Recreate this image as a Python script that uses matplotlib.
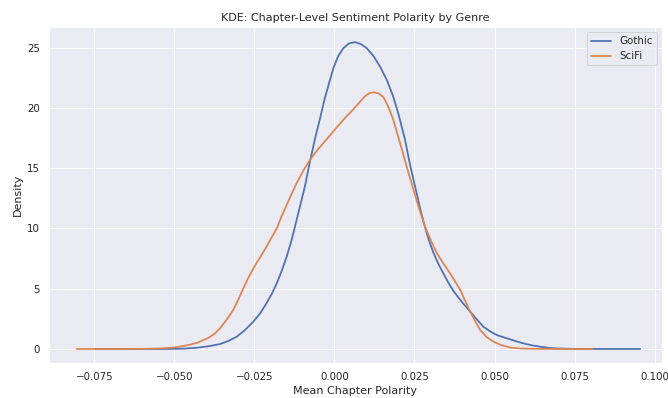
import matplotlib
matplotlib.use('Agg')
import matplotlib.pyplot as plt
import seaborn as sns

# density curves (x = mean polarity, y = density)
gothic_x = [-0.075, -0.060, -0.052, -0.047, -0.043, -0.0395, -0.0357, -0.033, -0.0305,
            -0.028, -0.0253, -0.0232, -0.0212, -0.0195, -0.018, -0.0165, -0.0149,
            -0.0133, -0.0118, -0.0105, -0.0092, -0.0076, -0.0060, -0.0045, -0.0030,
            -0.0015, -0.0003, 0.0012, 0.0028, 0.0046, 0.0064, 0.0082, 0.0101, 0.0122,
            0.0143, 0.0164, 0.0184, 0.0200, 0.0221, 0.0236, 0.0257, 0.0270, 0.0283,
            0.0296, 0.0309, 0.0324, 0.034, 0.0356, 0.0372, 0.0398, 0.0424, 0.0445,
            0.0465, 0.0487, 0.0507, 0.0528, 0.0549, 0.0575, 0.0600, 0.0622, 0.0643,
            0.067, 0.070, 0.075, 0.080, 0.0955]
gothic_y = [0.0, 0.0, 0.0, 0.03, 0.1, 0.22, 0.41, 0.68, 1.02,
            1.55, 2.27, 2.95, 3.79, 4.6, 5.45, 6.45, 7.66,
            9.1, 10.7, 12.1, 13.5, 15.6, 17.5, 19.1, 20.8,
            22.2, 23.3, 24.3, 24.95, 25.35, 25.45, 25.3, 24.95, 24.3,
            23.4, 22.3, 20.9, 19.5, 17.3, 15.3, 12.9, 11.4, 10.1,
            8.95, 8.0, 7.1, 6.28, 5.5, 4.8, 3.9, 3.1, 2.45,
            1.85, 1.45, 1.16, 0.97, 0.8, 0.58, 0.4, 0.28, 0.19,
            0.09, 0.04, 0.01, 0.0, 0.0]

scifi_x = [-0.0805, -0.068, -0.060, -0.055, -0.0503, -0.047, -0.043, -0.0395, -0.0375,
           -0.0357, -0.0336, -0.0316, -0.0300, -0.0285, -0.0268, -0.025, -0.0231,
           -0.0212, -0.0196, -0.018, -0.0165, -0.0149, -0.0133, -0.0118, -0.0097,
           -0.0076, -0.0050, -0.0024, 0.0008, 0.0038, 0.0060, 0.008, 0.0095, 0.0108,
           0.0122, 0.0138, 0.0153, 0.0168, 0.0184, 0.0205, 0.0226, 0.0247, 0.0265,
           0.0283, 0.0301, 0.032, 0.034, 0.0361, 0.0377, 0.0393, 0.0408, 0.0424,
           0.044, 0.0455, 0.0475, 0.0497, 0.052, 0.0549, 0.058, 0.063, 0.070, 0.0805]
scifi_y = [0.0, 0.0, 0.01, 0.04, 0.12, 0.25, 0.5, 0.9, 1.25,
           1.72, 2.45, 3.24, 4.1, 5.0, 5.95, 6.83, 7.65,
           8.49, 9.25, 10.0, 11.0, 11.95, 12.9, 13.75, 14.8,
           15.7, 16.6, 17.4, 18.4, 19.3, 19.9, 20.5, 20.95, 21.2,
           21.3, 21.2, 20.9, 20.1, 19.0, 17.07, 15.1, 13.2, 11.6,
           10.15, 9.0, 7.94, 7.1, 6.28, 5.6, 4.9, 4.0, 3.1,
           2.3, 1.58, 1.0, 0.6, 0.33, 0.12, 0.04, 0.01, 0.0, 0.0]

sns.set_theme()
fig, ax = plt.subplots(figsize=(10, 398 / 66.8), dpi=66.8)
fig.subplots_adjust(left=0.073, right=0.991, bottom=0.088, top=0.932)

ax.plot(gothic_x, gothic_y, lw=1.9, label='Gothic')
ax.plot(scifi_x, scifi_y, lw=1.9, label='SciFi')
ax.set_xlim(-0.0892, 0.1023)
ax.set_ylim(-1.16, 26.7)
ax.set_title('KDE: Chapter-Level Sentiment Polarity by Genre')
ax.set_xlabel('Mean Chapter Polarity')
ax.set_ylabel('Density')
ax.legend(loc='upper right')

fig.savefig('out.png', dpi=66.8)
